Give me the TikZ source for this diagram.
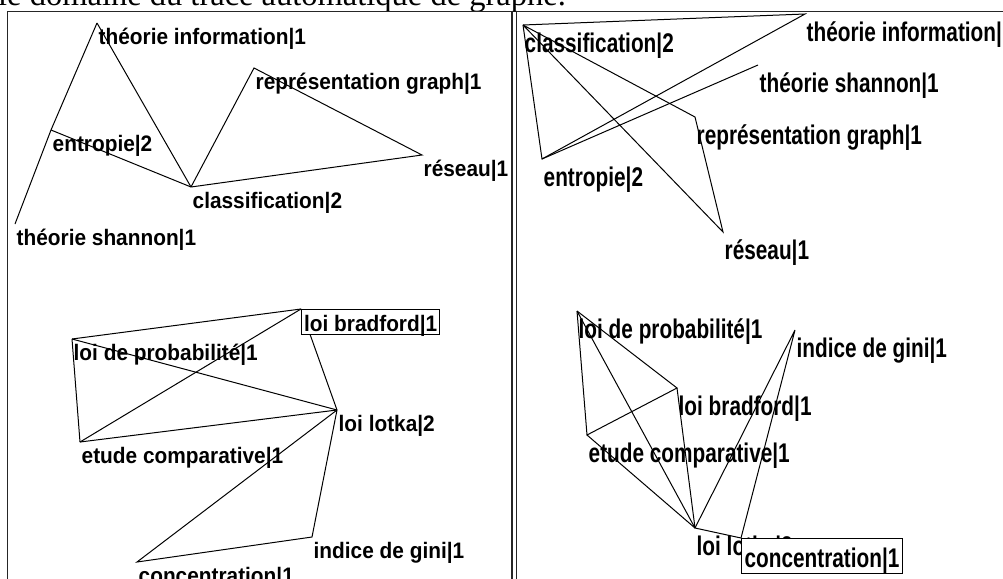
\documentclass[tikz,border=0pt]{standalone}
\usepackage{fontspec}
\setmainfont{Liberation Serif}
\newfontfamily\leftsans[FakeStretch=0.93]{Liberation Sans}
\newfontfamily\tallsans[FakeStretch=0.77]{Liberation Sans}
\usetikzlibrary{backgrounds}

\begin{document}
\begin{tikzpicture}[
    x=1pt, y=-1pt,
    frame/.style={draw=black!85, line width=1.6pt},
    link/.style={draw=black, line width=1pt},
    lterm/.style={anchor=north west, inner xsep=1.5pt, inner ysep=0pt,
        text height=21pt, text depth=4.5pt,
        font=\leftsans\bfseries\fontsize{22.4}{26}\selectfont},
    rterm/.style={anchor=north west, inner xsep=1.5pt, inner ysep=0pt,
        text height=27pt, text depth=6pt,
        font=\tallsans\bfseries\fontsize{27}{31}\selectfont},
    lboxed/.style={lterm, draw, fill=white, line width=1.2pt,
        inner xsep=2.5pt, text height=21.5pt, text depth=3.5pt},
    rboxed/.style={rterm, draw, fill=white, line width=1.2pt,
        inner xsep=3pt, text height=28.5pt, text depth=6pt}
]
\useasboundingbox (0,0) rectangle (1003,578);
\clip (0,0) rectangle (1003,578);

% caption line cut by the top of the picture
\node[anchor=base west, inner sep=0pt, font=\fontsize{32.5}{36}\selectfont]
    (caption) at (-2,6) {le domaine du tracé automatique de graphe.};

% the two panels
\draw[frame] (7.5,600) |- (512,11.5) -- (512,600);
\draw[frame] (516.5,600) |- (1015,11.5);

% left panel, first graph
\node[lterm] (lti) at (97,23) {théorie information|1};
\node[lterm] (ltr) at (254,68) {représentation graph|1};
\node[lterm] (lte) at (51,130) {entropie|2};
\node[lterm] (ltw) at (422,155) {réseau|1};
\node[lterm] (ltc) at (191,187) {classification|2};
\node[lterm] (lts) at (15,224) {théorie shannon|1};

% left panel, second graph
\node[lterm] (lbp) at (72,339) {loi de probabilité|1};
\node[lterm] (lbl) at (337,410) {loi lotka|2};
\node[lterm] (lbe) at (80,442) {etude comparative|1};
\node[lterm] (lbg) at (312,537) {indice de gini|1};
\node[lterm] (lbc) at (137,562) {concentration|1};
\node[lboxed] (lbb) at (301,309) {loi bradford|1};

% right panel, first graph
\node[rterm] (rtc) at (523,25) {classification|2};
\node[rterm] (rti) at (805,14) {théorie information|1};
\node[rterm] (rts) at (758,65) {théorie shannon|1};
\node[rterm] (rtr) at (695,117) {représentation graph|1};
\node[rterm] (rte) at (542,159) {entropie|2};
\node[rterm] (rtw) at (723,232) {réseau|1};

% right panel, second graph
\node[rterm] (rbp) at (577,311) {loi de probabilité|1};
\node[rterm] (rbg) at (795,330) {indice de gini|1};
\node[rterm] (rbb) at (677,388) {loi bradford|1};
\node[rterm] (rbe) at (587,435) {etude comparative|1};
\node[rterm] (rbl) at (695,528) {loi lotka|2};
\node[rboxed] (rbc) at (741,538) {concentration|1};

\begin{scope}[on background layer]
% left, first graph
\draw[link] (lti.north west) -- (lte.north west) -- (lts.north west);
\draw[link] (lti.north west) -- (ltc.north west);
\draw[link] (lte.north west) -- (ltc.north west);
\draw[link] (ltc.north west) -- (ltr.north west) -- (ltw.north west) -- (ltc.north west);
% left, second graph
\draw[link] (lbp.north west) -- (lbb.north west);
\draw[link] (lbp.north west) -- (lbe.north west);
\draw[link] (lbp.north west) -- (lbl.north west);
\draw[link] (lbe.north west) -- (lbb.north west);
\draw[link] (lbe.north west) -- (lbl.north west);
\draw[link] (lbb.north west) -- (lbl.north west);
\draw[link] (lbl.north west) -- (lbc.north west) -- (lbg.north west) -- (lbl.north west);
% right, first graph
\draw[link] (rtc.north west) -- (rti.north west) -- (rte.north west) -- (rtc.north west);
\draw[link] (rtc.north west) -- (rtw.north west) -- (rtr.north west) -- (rtc.north west);
\draw[link] (rte.north west) -- (rts.north west);
% right, second graph
\draw[link] (rbp.north west) -- (rbe.north west) -- (rbb.north west) -- (rbp.north west);
\draw[link] (rbp.north west) -- (rbl.north west);
\draw[link] (rbe.north west) -- (rbl.north west);
\draw[link] (rbb.north west) -- (rbl.north west);
\draw[link] (rbg.north west) -- (rbl.north west) -- (rbc.north west) -- (rbg.north west);
\end{scope}

\end{tikzpicture}
\end{document}
